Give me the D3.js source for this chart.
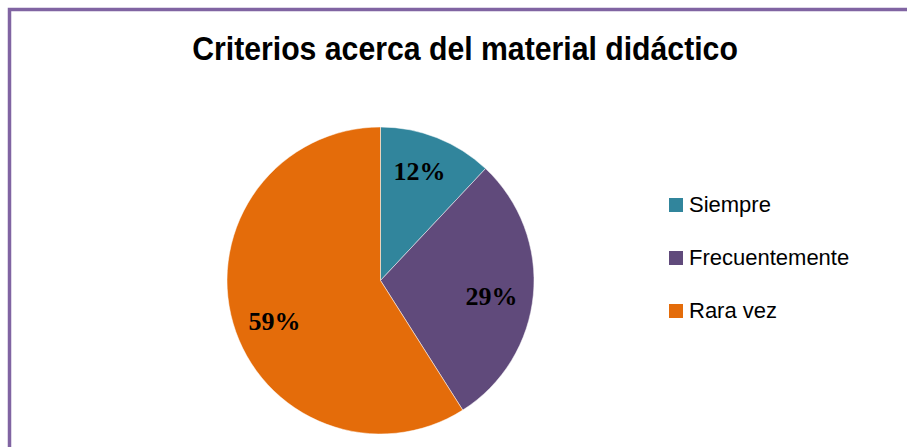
<!DOCTYPE html>
<html>
<head>
<meta charset="utf-8">
<script src="https://cdn.jsdelivr.net/npm/d3@7"></script>
<style>
  body { margin: 0; background: #fff; }
</style>
</head>
<body>
<script>
let categories = ["Siempre", "Frecuentemente", "Rara vez"];
let values = [12, 29, 59];
let labels = ["12%", "29%", "59%"];
let colors = ["#31859C", "#604A7B", "#E46C0A"];
let title = "Criterios acerca del material didáctico";

let width = 907;
let height = 447;
let cx = 380.5, cy = 280.5, radius = 153.5;

let svg = d3.select("body")
    .append("svg")
    .attr("width", width)
    .attr("height", height);

// chart frame (only left and top edges are visible)
svg.append("rect")
    .attr("x", 9.5)
    .attr("y", 9.5)
    .attr("width", 1000)
    .attr("height", 1000)
    .attr("fill", "none")
    .attr("stroke", "#8064A2")
    .attr("stroke-width", 3.5);

// title in a condensed look: squeeze a bold sans to the width of the original
let titleG = svg.append("g");
let titleText = titleG.append("text")
    .attr("x", 0)
    .attr("y", 0)
    .attr("text-anchor", "middle")
    .text(title)
    .style("font-family", "'Liberation Sans', Arial, sans-serif")
    .style("font-weight", "bold")
    .style("font-size", "33px")
    .style("fill", "#000");
let titleW = titleText.node().getComputedTextLength();
titleG.attr("transform", "translate(465,60) scale(" + (546 / titleW) + ",1)");

let pie = d3.pie().sort(null).value((d) => d);
let arcs = pie(values);
let arc = d3.arc().innerRadius(0).outerRadius(radius);

let g = svg.append("g")
    .attr("transform", "translate(" + cx + "," + cy + ")");

g.selectAll("path")
    .data(arcs)
    .join("path")
    .attr("d", arc)
    .attr("fill", (d, i) => colors[i])
    .attr("stroke", "#fff")
    .attr("stroke-width", 0.5);

let labelPos = [[39, -109], [111, 16], [-106, 41]];
g.selectAll("text")
    .data(arcs)
    .join("text")
    .attr("x", (d, i) => labelPos[i][0])
    .attr("y", (d, i) => labelPos[i][1])
    .attr("text-anchor", "middle")
    .attr("dominant-baseline", "central")
    .text((d, i) => labels[i])
    .style("font-family", "'Liberation Serif', 'Times New Roman', serif")
    .style("font-weight", "bold")
    .style("font-size", "26px")
    .style("fill", "#000");

let legend = svg.append("g")
    .attr("class", "legend");

let legendY = d3.scalePoint()
    .domain(categories)
    .range([205, 311]);

legend.selectAll("rect")
    .data(categories)
    .join("rect")
    .attr("x", 669)
    .attr("y", (d) => legendY(d) - 7)
    .attr("width", 14)
    .attr("height", 14)
    .attr("fill", (d, i) => colors[i]);

legend.selectAll("text")
    .data(categories)
    .join("text")
    .attr("x", 689)
    .attr("y", (d) => legendY(d) + 7)
    .text((d) => d)
    .style("font-family", "'Liberation Sans', Arial, sans-serif")
    .style("font-size", "22px")
    .style("fill", "#000");
</script>
</body>
</html>
